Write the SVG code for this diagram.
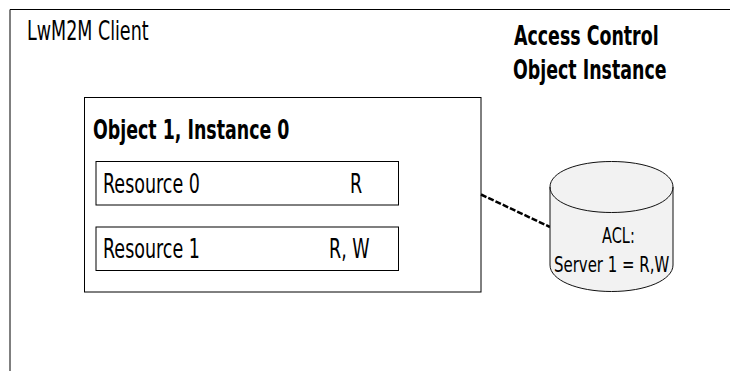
<svg xmlns="http://www.w3.org/2000/svg" width="730" height="371" viewBox="0 0 730 371">
<style>
text{font-family:"DejaVu Sans",sans-serif;fill:#000}
.n{font-size:26px}
.s{font-size:22px}
.b{font-size:26px;font-weight:bold}
.box{fill:#fff;stroke:#000;stroke-width:1}
</style>
<rect width="730" height="371" fill="#fff"/>
<g id="client">
<path d="M10 371V9.500H730" fill="none" stroke="#000" stroke-width="1"/>
<text class="n" transform="translate(27 40) scale(.673 1)">LwM2M Client</text>
</g>
<g id="title">
<text class="b" transform="translate(514 45) scale(.67 1)">Access Control</text>
<text class="b" transform="translate(513 79) scale(.67 1)">Object Instance</text>
</g>
<g id="object">
<rect class="box" x="84.500" y="97.500" width="396.500" height="194.500"/>
<text class="b" transform="translate(93 139) scale(.67 1)">Object 1, Instance 0</text>
</g>
<g id="resource0">
<rect class="box" x="96" y="161.500" width="302.500" height="43.500"/>
<text class="n" transform="translate(103 193) scale(.673 1)">Resource 0</text>
<text class="n" transform="translate(350 193) scale(.673 1)">R</text>
</g>
<g id="resource1">
<rect class="box" x="96" y="227" width="302.500" height="43.500"/>
<text class="n" transform="translate(103 258) scale(.673 1)">Resource 1</text>
<text class="n" transform="translate(329 258) scale(.673 1)">R, W</text>
</g>
<g id="connectors">
<path d="M481 194.500L550 227" fill="none" stroke="#000" stroke-width="2.500" stroke-dasharray="6 2"/>
</g>
<g id="acl">
<path d="M550 187C550 172 577 161.500 611.500 161.500S673 172 673 187V265C673 280 646 291.500 611.500 291.500S550 280 550 265Z" fill="#f2f2f2" stroke="#111" stroke-width="1"/>
<path d="M550 187C550 202 577 212.500 611.500 212.500S673 202 673 187" fill="none" stroke="#111" stroke-width="1"/>
<text class="s" transform="translate(602 243) scale(.66 1)">ACL:</text>
<text class="s" transform="translate(554 272) scale(.68 1)">Server 1 = R,W</text>
</g>
</svg>
